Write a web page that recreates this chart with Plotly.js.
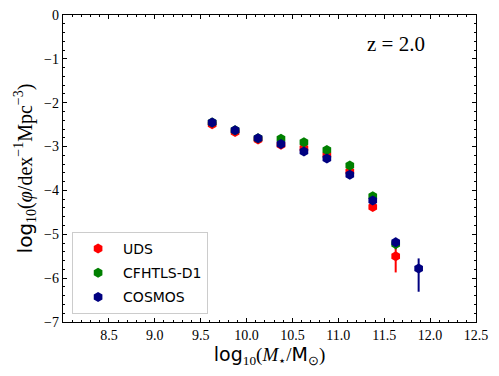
<!DOCTYPE html>
<html>
<head>
<meta charset="utf-8">
<script src="https://cdn.plot.ly/plotly-3.0.1.min.js"></script>
<style>
  body { margin: 0; background: #fff; }
  #chart { width: 499px; height: 376px; }
</style>
</head>
<body>
<div id="chart"></div>
<script>
// stellar mass bins, log10(M*/Msun)
const massUDS = [9.625, 9.875, 10.125, 10.375, 10.625, 10.875, 11.125, 11.375, 11.625];
const phiUDS = [-2.49, -2.67, -2.84, -2.96, -3.04, -3.19, -3.57, -4.38, -5.50];
const errUDS = [0.03, 0.03, 0.03, 0.03, 0.03, 0.04, 0.05, 0.08, 0.37];

const massD1 = [9.625, 9.875, 10.125, 10.375, 10.625, 10.875, 11.125, 11.375, 11.625];
const phiD1 = [-2.45, -2.63, -2.81, -2.82, -2.90, -3.08, -3.43, -4.13, -5.22];
const errD1 = [0.03, 0.03, 0.03, 0.03, 0.03, 0.03, 0.04, 0.07, 0.12];

const massCOSMOS = [9.625, 9.875, 10.125, 10.375, 10.625, 10.875, 11.125, 11.375, 11.625, 11.875];
const phiCOSMOS = [-2.45, -2.63, -2.81, -2.94, -3.11, -3.27, -3.64, -4.23, -5.18, -5.78];
const errCOSMOSup = [0.02, 0.02, 0.02, 0.02, 0.02, 0.03, 0.03, 0.05, 0.10, 0.23];
const errCOSMOSdown = [0.02, 0.02, 0.02, 0.02, 0.02, 0.03, 0.03, 0.05, 0.10, 0.53];

const xTicks = [8.5, 9.0, 9.5, 10.0, 10.5, 11.0, 11.5, 12.0, 12.5];
const yTicks = [0, -1, -2, -3, -4, -5, -6, -7];

function series(name, x, y, errUp, errDown, color) {
    return {
        x: x, y: y, name: name, legendgroup: name,
        type: 'scatter', mode: 'markers',
        marker: { symbol: 'hexagon', size: 10, color: color },
        error_y: {
            type: 'data', symmetric: errDown ? false : true,
            array: errUp, arrayminus: errDown || errUp,
            color: color, thickness: 2, width: 0
        }
    };
}

const data = [
    series('UDS', massUDS, phiUDS, errUDS, null, '#ff0000'),
    series('CFHTLS-D1', massD1, phiD1, errD1, null, '#008000'),
    series('COSMOS', massCOSMOS, phiCOSMOS, errCOSMOSup, errCOSMOSdown, '#000080')
];

const serif = 'Liberation Serif, serif';
const sans = 'DejaVu Sans, sans-serif';
const tickFont = { family: serif, size: 14, color: '#000' };
const sf = s => '<span style="font-family:' + serif + '">' + s + '</span>';

const layout = {
    width: 499, height: 376,
    margin: { l: 63, r: 23, t: 15, b: 54 },
    paper_bgcolor: '#fff', plot_bgcolor: '#fff',
    showlegend: true,
    xaxis: {
        range: [8.0, 12.5],
        tickvals: xTicks,
        ticktext: xTicks.map(v => v.toFixed(1)),
        ticks: 'inside', ticklen: 4, tickwidth: 1, tickcolor: '#000',
        minor: { dtick: 0.1, tick0: 8, ticks: 'inside', ticklen: 2, tickcolor: '#000' },
        showline: true, linecolor: '#000', linewidth: 1.3, mirror: 'ticks',
        showgrid: false, zeroline: false,
        tickfont: tickFont,
        title: {
            text: 'log' + sf('<sub>10</sub>(<i>M</i><sub>⋆</sub>/') + 'M' + sf('<sub>⊙</sub>)'),
            font: { family: sans, size: 19, color: '#000' },
            standoff: 5
        }
    },
    yaxis: {
        range: [-7, 0],
        tickvals: yTicks,
        ticks: 'inside', ticklen: 4, tickwidth: 1, tickcolor: '#000',
        minor: { dtick: 0.2, tick0: 0, ticks: 'inside', ticklen: 2, tickcolor: '#000' },
        showline: true, linecolor: '#000', linewidth: 1.3, mirror: 'ticks',
        showgrid: false, zeroline: false,
        tickfont: tickFont,
        title: {
            text: 'log' + sf('<sub>10</sub>(<i>φ</i>/dex<sup>−1</sup>Mpc<sup>−3</sup>)'),
            font: { family: sans, size: 20, color: '#000' },
            standoff: 6
        }
    },
    legend: {
        x: 0.022, y: 0.026, xanchor: 'left', yanchor: 'bottom',
        bgcolor: '#fff', bordercolor: '#cccccc', borderwidth: 1,
        font: { family: sans, size: 14, color: '#000' },
        itemwidth: 40,
        traceorder: 'grouped',
        tracegroupgap: 3
    },
    annotations: [{
        xref: 'paper', yref: 'paper', x: 0.806, y: 0.905,
        xanchor: 'center', yanchor: 'middle', showarrow: false,
        text: 'z = 2.0',
        font: { family: serif, size: 21, color: '#000' }
    }]
};

Plotly.newPlot('chart', data, layout, { displayModeBar: false, staticPlot: true });
</script>
</body>
</html>
